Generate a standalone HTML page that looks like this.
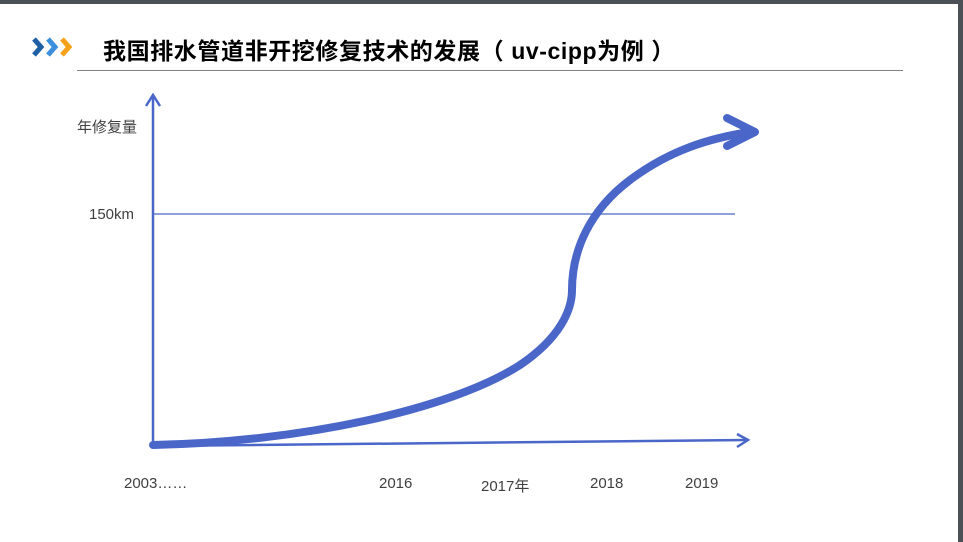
<!DOCTYPE html>
<html><head><meta charset="utf-8"><style>
body{margin:0;width:963px;height:542px;background:#fff;position:relative;overflow:hidden;font-family:"Liberation Sans","Noto Sans CJK SC",sans-serif}
.t{position:absolute;color:#404040;font-size:15px}
</style></head><body>
<div style="position:absolute;left:0;top:0;width:963px;height:4px;background:#4b5056"></div>
<div style="position:absolute;left:958px;top:0;width:5px;height:542px;background:#4b5056"></div>
<svg width="963" height="542" style="position:absolute;left:0;top:0">
<g fill="none" stroke-width="5" stroke-linecap="butt">
<polyline points="34,39 41,47 34,55" stroke="#1f5fa6"/>
<polyline points="48,39 55,47 48,55" stroke="#3c8fdc"/>
<polyline points="62,39 69,47 62,55" stroke="#f5a11a"/>
</g>
<line x1="77" y1="70.5" x2="903" y2="70.5" stroke="#808080" stroke-width="1"/>
<line x1="152" y1="214" x2="735" y2="214" stroke="#4a66c8" stroke-width="1.2"/>
<g stroke="#4a66c8" stroke-width="2.5" fill="none">
<line x1="153" y1="447" x2="153" y2="97"/>
<polyline points="146,106 153,95 160,106"/>
<line x1="152" y1="446" x2="747" y2="440"/>
<polyline points="737,434 748,440 737,447"/>
</g>
<g stroke="#4a66c8" stroke-width="8" fill="none" stroke-linecap="round" stroke-linejoin="round">
<path d="M153,445 C300,442 450,410 520,365 C560,338 572,310 572,290 C572,250 590,210 630,180 C670,150 710,138 750,132"/>
<polyline points="727,118 755,132 727,146"/>
</g>
</svg>
<div style="position:absolute;left:103px;top:32px;font-size:23px;font-weight:bold;color:#000;letter-spacing:0.6px;white-space:nowrap">我国排水管道非开挖修复技术的发展（ uv-cipp为例 ）</div>
<div class="t" style="left:77px;top:116px">年修复量</div>
<div class="t" style="left:89px;top:206px">150km</div>
<div class="t" style="left:124px;top:475px">2003……</div>
<div class="t" style="left:379px;top:475px">2016</div>
<div class="t" style="left:481px;top:475px">2017年</div>
<div class="t" style="left:590px;top:475px">2018</div>
<div class="t" style="left:685px;top:475px">2019</div>
</body></html>
